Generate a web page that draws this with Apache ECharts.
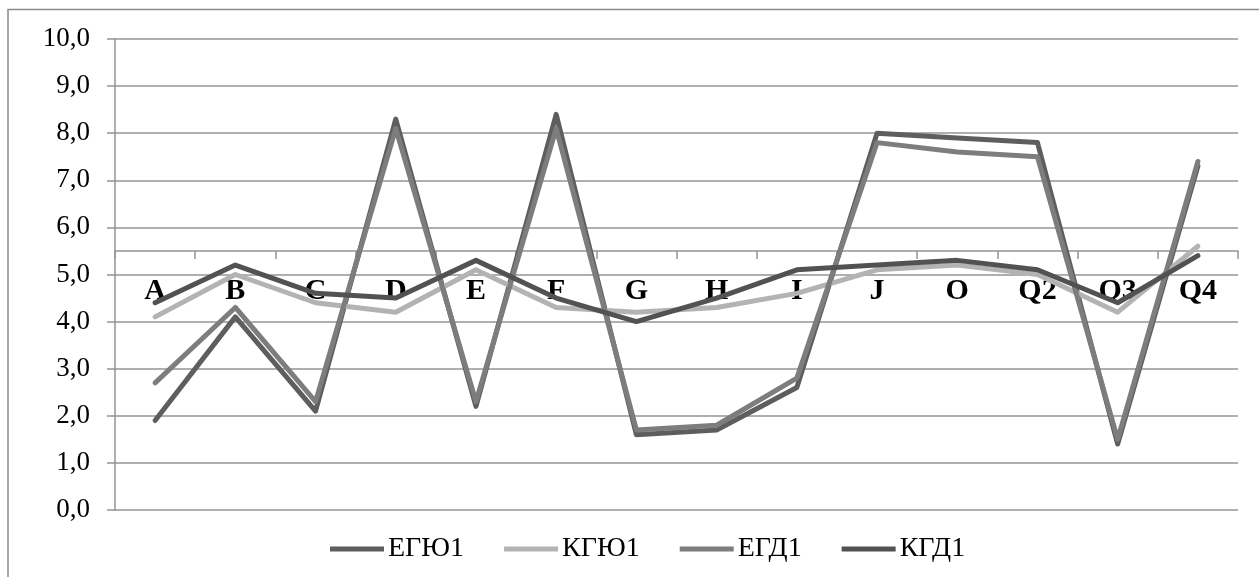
<!DOCTYPE html>
<html>
<head>
<meta charset="utf-8">
<script src="https://cdn.jsdelivr.net/npm/echarts@6/dist/echarts.min.js"></script>
<style>
  html, body { margin: 0; padding: 0; background: #ffffff; }
  #chart { width: 1259px; height: 577px; }
</style>
</head>
<body>
<div id="chart"></div>
<script>
// Categories along the horizontal axis
const categories = ['A', 'B', 'C', 'D', 'E', 'F', 'G', 'H', 'I', 'J', 'O', 'Q2', 'Q3', 'Q4'];

// Series values
const egyu1 = [1.9, 4.1, 2.1, 8.3, 2.2, 8.4, 1.6, 1.7, 2.6, 8.0, 7.9, 7.8, 1.4, 7.3];
const kgyu1 = [4.1, 5.0, 4.4, 4.2, 5.1, 4.3, 4.2, 4.3, 4.6, 5.1, 5.2, 5.0, 4.2, 5.6];
const egd1  = [2.7, 4.3, 2.3, 8.1, 2.3, 8.1, 1.7, 1.8, 2.8, 7.8, 7.6, 7.5, 1.5, 7.4];
const kgd1  = [4.4, 5.2, 4.6, 4.5, 5.3, 4.5, 4.0, 4.5, 5.1, 5.2, 5.3, 5.1, 4.4, 5.4];

const seriesNames = ['ЕГЮ1', 'КГЮ1', 'ЕГД1', 'КГД1'];

// Value axis range
const yMin = 0, yMax = 10, yStep = 1;
// Value at which the category axis crosses the value axis
const axisCross = 5.5;

const grid = { left: 115, right: 21, top: 39, bottom: 67 };
const plotHeight = 577 - grid.top - grid.bottom;
const crossOffset = -((axisCross - yMin) / (yMax - yMin)) * plotHeight;

const serif = '"Liberation Serif", "Times New Roman", serif';
const gridGray = '#949494';

function lineSeries(name, data, color) {
  return {
    name: name,
    type: 'line',
    data: data,
    symbol: 'none',
    smooth: false,
    lineStyle: { color: color, width: 5, join: 'round', cap: 'round' },
    itemStyle: { color: color }
  };
}

const chart = echarts.init(document.getElementById('chart'), null, { renderer: 'canvas' });

chart.setOption({
  animation: false,
  backgroundColor: '#ffffff',
  graphic: [{
    type: 'rect',
    shape: { x: 8, y: 9.5, width: 1300, height: 620 },
    style: { fill: 'none', stroke: '#8a8a8a', lineWidth: 1.5 },
    silent: true,
    z: -10
  }],
  grid: grid,
  legend: {
    data: seriesNames,
    left: 325,
    top: 530,
    itemWidth: 54,
    itemHeight: 5,
    itemGap: 40,
    icon: 'rect',
    textStyle: { fontFamily: serif, fontSize: 28, color: '#000000', padding: [0, 0, 0, -1] }
  },
  xAxis: {
    type: 'category',
    data: categories,
    boundaryGap: true,
    position: 'bottom',
    offset: crossOffset,
    axisLine: { show: true, onZero: false, lineStyle: { color: gridGray, width: 1.5 } },
    axisTick: { show: true, interval: 0, length: 8, inside: false, lineStyle: { color: gridGray, width: 1.5 } },
    axisLabel: {
      interval: 0,
      margin: 25,
      fontFamily: serif,
      fontSize: 30,
      fontWeight: 'bold',
      color: '#000000'
    },
    splitLine: { show: false }
  },
  yAxis: {
    type: 'value',
    min: yMin,
    max: yMax,
    interval: yStep,
    axisLine: { show: true, lineStyle: { color: gridGray, width: 1.5 } },
    axisTick: { show: true, length: 8, lineStyle: { color: gridGray, width: 1.5 } },
    axisLabel: {
      margin: 25,
      fontFamily: serif,
      fontSize: 27,
      color: '#000000',
      formatter: v => v.toFixed(1).replace('.', ',')
    },
    splitLine: { show: true, lineStyle: { color: gridGray, width: 1.5 } }
  },
  series: [
    lineSeries(seriesNames[0], egyu1, '#5e5e5e'),
    lineSeries(seriesNames[1], kgyu1, '#b3b3b3'),
    lineSeries(seriesNames[2], egd1, '#7d7d7d'),
    lineSeries(seriesNames[3], kgd1, '#525252')
  ]
});
</script>
</body>
</html>
